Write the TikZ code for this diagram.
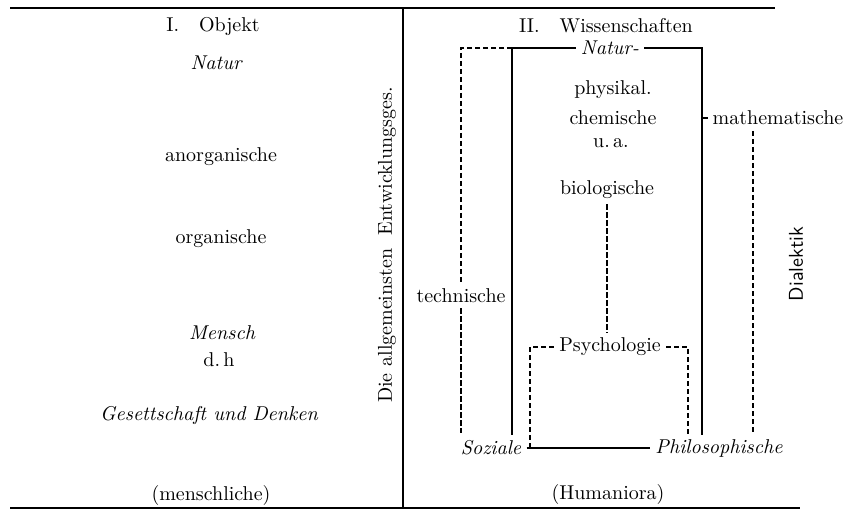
\documentclass[tikz,border=0pt]{standalone}
\begin{document}
\begin{tikzpicture}[x=0.5pt,y=-0.5pt,
  txt/.style={inner sep=2.5pt},
  itxt/.style={inner sep=2.5pt,font=\itshape},
  frame/.style={line width=0.9pt},
  solidln/.style={line width=0.6pt},
  dashln/.style={line width=0.6pt,dash pattern=on 2.6pt off 1.4pt}]
\useasboundingbox (0,0) rectangle (855,513);
% frame
\coordinate (tl) at (10,8);
\coordinate (tr) at (775,8);
\coordinate (bl) at (10,508);
\coordinate (br) at (800,508);
\coordinate (dt) at (403,8);
\coordinate (db) at (403,508);
\draw[frame] (tl) -- (tr);
\draw[frame] (bl) -- (br);
\draw[frame] (dt) -- (db);
% left column
\node[txt] (objekt) at (213,27) {I.\quad Objekt};
\node[itxt] (natur) at (216,63) {Natur};
\node[txt] (anorg) at (221,157) {anorganische};
\node[txt] (org) at (221,239) {organische};
\node[itxt] (mensch) at (222,333) {Mensch};
\node[txt] (dh) at (219,360) {d.\,h};
\node[itxt] (gesell) at (209,415) {Gesettschaft und Denken};
\node[txt] (menschl) at (211,495) {(menschliche)};
\node[txt,rotate=90] (entw) at (387,245) {Die allgemeinsten\ \ Entwicklungsges.};
% right column
\node[txt] (wiss) at (606,26) {II.\quad Wissenschaften};
\node[itxt] (naturw) at (610,48) {Natur-};
\node[txt] (phys) at (613,90) {physikal.};
\node[txt] (chem) at (613,118) {chemische};
\node[txt] (ua) at (611,143) {u.\,a.};
\node[txt] (bio) at (607,190) {biologische};
\node[txt,inner sep=1pt] (math) at (778,118) {mathematische};
\node[txt] (techn) at (461,296) {technische};
\node[txt] (psych) at (610,347) {Psychologie};
\node[itxt] (soz) at (491,448) {Soziale};
\node[itxt] (philo) at (719,448) {Philosophische};
\node[txt] (human) at (608,494) {(Humaniora)};
\node[txt,rotate=90,font=\sffamily] (dial) at (796,264) {Dialektik};
% connector corners
\coordinate (sLt) at (512,48);
\coordinate (sLb) at (512,435);
\coordinate (sRt) at (702,48);
\coordinate (sRb) at (702,435);
\coordinate (dOt) at (461,48);
\coordinate (dOb) at (461,433);
\coordinate (mjt) at (703,118);
\coordinate (mvt) at (753,131);
\coordinate (mvb) at (753,433);
\coordinate (pLt) at (530,347);
\coordinate (pLb) at (530,448);
\coordinate (pRt) at (688,347);
\coordinate (pRb) at (688,435);
% solid lines
\draw[solidln] (naturw.west) -- (sLt) -- (sLb);
\draw[solidln] (naturw.east) -- (sRt) -- (sRb);
\draw[solidln] (soz.east) -- (philo.west);
% dashed lines
\draw[dashln] (sLt) -- (dOt) -- (techn.north);
\draw[dashln] (techn.south) -- (dOb);
\draw[dashln] (mjt) -- (math.west);
\draw[dashln] (mvt) -- (mvb);
\draw[dashln] (bio.south) -- (bio.south |- psych.north);
\draw[dashln] (psych.west) -- (pLt) -- (pLb);
\draw[dashln] (psych.east) -- (pRt) -- (pRb);
\end{tikzpicture}
\end{document}
